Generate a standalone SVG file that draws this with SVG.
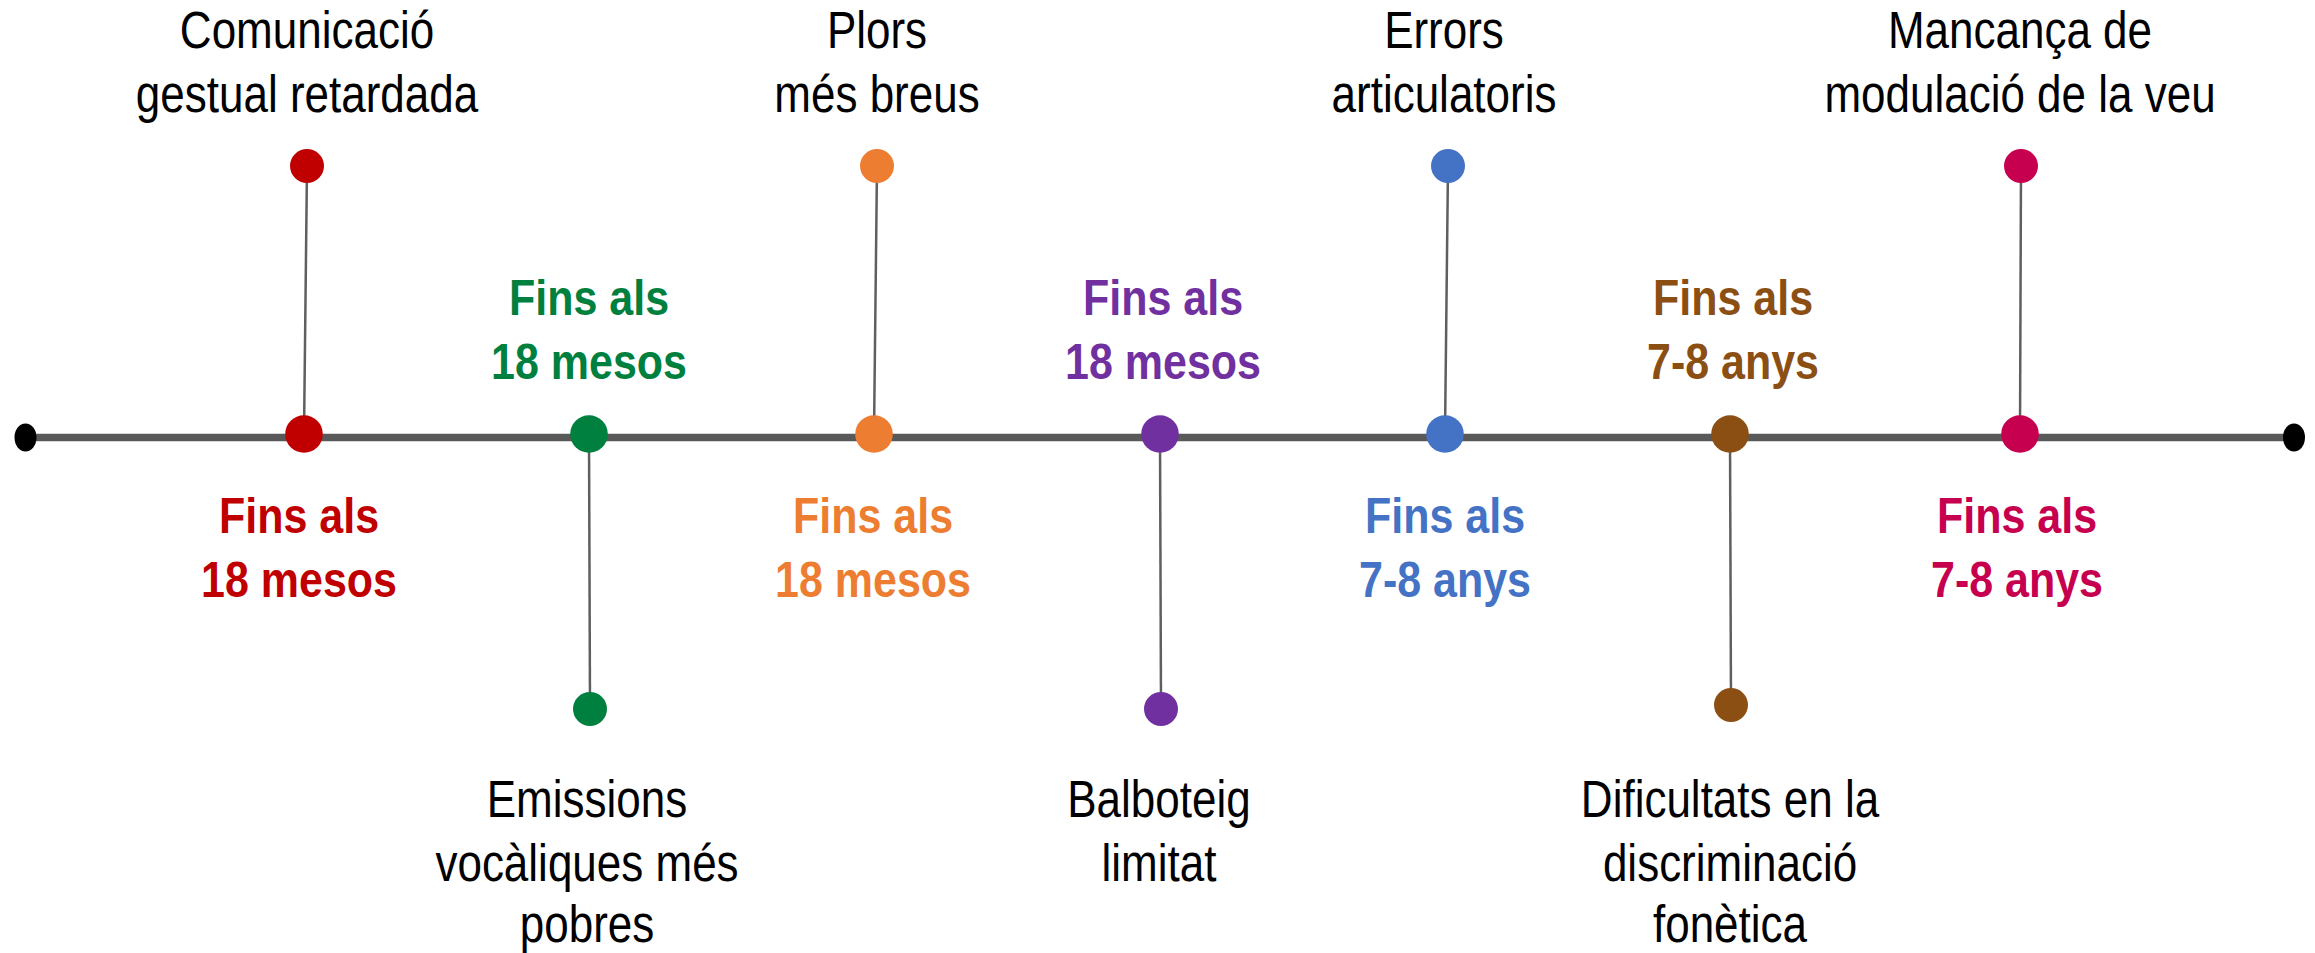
<svg xmlns="http://www.w3.org/2000/svg" width="2315" height="953" viewBox="0 0 2315 953">
<style>
.lbl{font-family:"Liberation Sans",Arial,sans-serif;font-size:44px;fill:#000;text-anchor:middle}
.age{font-family:"Liberation Sans",Arial,sans-serif;font-size:43px;font-weight:bold;text-anchor:middle}
.stem{stroke:#5f5f5f;stroke-width:2.5;fill:none}
.axis{stroke:#595959;stroke-width:7.5;fill:none}
</style>
<rect width="2315" height="953" fill="#fff"/>
<g id="connectors">
<line class="axis" x1="25" y1="437.5" x2="2294" y2="437.5"/>
<line class="stem" x1="307" y1="166" x2="304" y2="434"/>
<line class="stem" x1="589" y1="434" x2="590" y2="709"/>
<line class="stem" x1="877" y1="166" x2="874" y2="434"/>
<line class="stem" x1="1160" y1="434" x2="1161" y2="709"/>
<line class="stem" x1="1448" y1="166" x2="1445" y2="434"/>
<line class="stem" x1="1730" y1="434" x2="1731" y2="705"/>
<line class="stem" x1="2021" y1="166" x2="2020" y2="434"/>
</g>
<g id="start"><ellipse cx="25.5" cy="437.5" rx="11" ry="14" fill="#000"/></g>
<g id="end"><ellipse cx="2294" cy="437.5" rx="11" ry="14" fill="#000"/></g>
<g id="node1">
<circle cx="304" cy="434" r="18.8" fill="#C00000"/>
<circle cx="307" cy="166" r="17" fill="#C00000"/>
<text class="lbl" transform="matrix(1 0 0 1.18 307 48)"><tspan x="0" y="0">Comunicació</tspan><tspan x="0" y="54">gestual retardada</tspan></text>
<text class="age" fill="#C00000" transform="matrix(1 0 0 1.18 299 533)"><tspan x="0" y="0">Fins als</tspan><tspan x="0" y="54">18 mesos</tspan></text>
</g>
<g id="node2">
<circle cx="589" cy="434" r="18.8" fill="#00803E"/>
<circle cx="590" cy="709" r="17" fill="#00803E"/>
<text class="age" fill="#00803E" transform="matrix(1 0 0 1.18 589 315)"><tspan x="0" y="0">Fins als</tspan><tspan x="0" y="54">18 mesos</tspan></text>
<text class="lbl" transform="matrix(1 0 0 1.18 587 817)"><tspan x="0" y="0">Emissions</tspan><tspan x="0" y="54">vocàliques més</tspan><tspan x="0" y="106">pobres</tspan></text>
</g>
<g id="node3">
<circle cx="874" cy="434" r="18.8" fill="#ED7D31"/>
<circle cx="877" cy="166" r="17" fill="#ED7D31"/>
<text class="lbl" transform="matrix(1 0 0 1.18 877 48)"><tspan x="0" y="0">Plors</tspan><tspan x="0" y="54">més breus</tspan></text>
<text class="age" fill="#ED7D31" transform="matrix(1 0 0 1.18 873 533)"><tspan x="0" y="0">Fins als</tspan><tspan x="0" y="54">18 mesos</tspan></text>
</g>
<g id="node4">
<circle cx="1160" cy="434" r="18.8" fill="#7030A0"/>
<circle cx="1161" cy="709" r="17" fill="#7030A0"/>
<text class="age" fill="#7030A0" transform="matrix(1 0 0 1.18 1163 315)"><tspan x="0" y="0">Fins als</tspan><tspan x="0" y="54">18 mesos</tspan></text>
<text class="lbl" transform="matrix(1 0 0 1.18 1159 817)"><tspan x="0" y="0">Balboteig</tspan><tspan x="0" y="54">limitat</tspan></text>
</g>
<g id="node5">
<circle cx="1445" cy="434" r="18.8" fill="#4472C4"/>
<circle cx="1448" cy="166" r="17" fill="#4472C4"/>
<text class="lbl" transform="matrix(1 0 0 1.18 1444 48)"><tspan x="0" y="0">Errors</tspan><tspan x="0" y="54">articulatoris</tspan></text>
<text class="age" fill="#4472C4" transform="matrix(1 0 0 1.18 1445 533)"><tspan x="0" y="0">Fins als</tspan><tspan x="0" y="54">7-8 anys</tspan></text>
</g>
<g id="node6">
<circle cx="1730" cy="434" r="18.8" fill="#8B4F13"/>
<circle cx="1731" cy="705" r="17" fill="#8B4F13"/>
<text class="age" fill="#8B4F13" transform="matrix(1 0 0 1.18 1733 315)"><tspan x="0" y="0">Fins als</tspan><tspan x="0" y="54">7-8 anys</tspan></text>
<text class="lbl" transform="matrix(1 0 0 1.18 1730 817)"><tspan x="0" y="0">Dificultats en la</tspan><tspan x="0" y="54">discriminació</tspan><tspan x="0" y="106">fonètica</tspan></text>
</g>
<g id="node7">
<circle cx="2020" cy="434" r="18.8" fill="#C6004E"/>
<circle cx="2021" cy="166" r="17" fill="#C6004E"/>
<text class="lbl" transform="matrix(1 0 0 1.18 2020 48)"><tspan x="0" y="0">Mancança de</tspan><tspan x="0" y="54">modulació de la veu</tspan></text>
<text class="age" fill="#C6004E" transform="matrix(1 0 0 1.18 2017 533)"><tspan x="0" y="0">Fins als</tspan><tspan x="0" y="54">7-8 anys</tspan></text>
</g>
</svg>
